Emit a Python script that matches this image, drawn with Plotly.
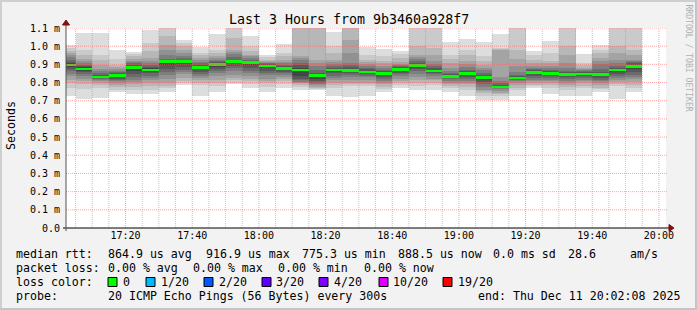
import plotly.graph_objects as go
import pandas as pd

# ---------------- data ----------------
# end time of each 5-minute step (rrd bucket), 11 Dec 2025
STEP_END = pd.date_range("2025-12-11 17:05", periods=35, freq="5min")

# median rtt per step (ms)
MEDIAN = [0.896, 0.874, 0.830, 0.838, 0.883, 0.869, 0.917, 0.915, 0.883, 0.900,
          0.915, 0.909, 0.891, 0.876, 0.869, 0.838, 0.869, 0.867, 0.858, 0.849,
          0.871, 0.893, 0.864, 0.834, 0.849, 0.828, 0.775, 0.825, 0.856, 0.849,
          0.845, 0.847, 0.843, 0.869, 0.889]

# 20 sorted ping rtts per step (ms)
PINGS = [
    [0.728,0.770,0.795,0.815,0.834,0.848,0.862,0.875,0.886,0.893,0.899,0.906,0.915,0.925,0.938,0.950,0.962,0.975,0.990,1.008],
    [0.709,0.766,0.793,0.810,0.822,0.835,0.848,0.858,0.866,0.871,0.877,0.883,0.890,0.898,0.908,0.918,0.930,0.950,0.981,1.072],
    [0.713,0.770,0.785,0.798,0.806,0.814,0.820,0.824,0.827,0.829,0.832,0.836,0.842,0.850,0.862,0.875,0.898,0.925,0.953,1.072],
    [0.746,0.761,0.775,0.785,0.797,0.806,0.814,0.822,0.829,0.835,0.841,0.846,0.852,0.858,0.865,0.872,0.885,0.898,0.930,0.977],
    [0.735,0.760,0.775,0.790,0.805,0.816,0.830,0.845,0.862,0.878,0.888,0.893,0.899,0.905,0.912,0.920,0.930,0.944,0.955,0.968],
    [0.735,0.761,0.780,0.797,0.812,0.825,0.838,0.850,0.858,0.866,0.872,0.878,0.886,0.895,0.905,0.918,0.935,0.972,1.017,1.087],
    [0.746,0.770,0.782,0.797,0.820,0.843,0.860,0.875,0.895,0.913,0.919,0.922,0.926,0.932,0.950,0.980,1.005,1.054,1.105,1.150],
    [0.785,0.797,0.810,0.825,0.845,0.860,0.871,0.885,0.900,0.912,0.918,0.922,0.926,0.935,0.945,0.962,0.980,0.999,1.015,1.032],
    [0.727,0.788,0.800,0.812,0.825,0.834,0.848,0.860,0.872,0.880,0.886,0.892,0.898,0.906,0.915,0.925,0.935,0.950,0.962,0.995],
    [0.746,0.779,0.795,0.816,0.835,0.850,0.862,0.875,0.888,0.897,0.903,0.908,0.912,0.918,0.926,0.935,0.944,0.962,0.981,1.065],
    [0.790,0.800,0.812,0.825,0.840,0.862,0.878,0.892,0.905,0.913,0.917,0.921,0.926,0.940,0.955,0.968,0.981,1.046,1.108,1.130],
    [0.772,0.790,0.807,0.822,0.838,0.852,0.866,0.880,0.895,0.906,0.912,0.916,0.920,0.926,0.935,0.945,0.953,0.975,0.999,1.054],
    [0.750,0.775,0.797,0.810,0.822,0.843,0.855,0.866,0.878,0.888,0.894,0.898,0.902,0.905,0.907,0.912,0.918,0.926,0.938,0.953],
    [0.772,0.790,0.807,0.818,0.830,0.843,0.852,0.860,0.867,0.873,0.879,0.885,0.892,0.898,0.905,0.915,0.926,0.945,0.962,1.014],
    [0.757,0.775,0.785,0.795,0.800,0.805,0.812,0.820,0.835,0.862,0.876,0.882,0.895,0.910,0.925,0.935,0.944,1.120,1.140,1.160],
    [0.761,0.766,0.772,0.778,0.785,0.792,0.800,0.810,0.822,0.834,0.842,0.846,0.852,0.870,0.890,0.910,0.926,1.120,1.140,1.160],
    [0.724,0.770,0.785,0.800,0.812,0.825,0.838,0.850,0.860,0.866,0.872,0.876,0.880,0.890,0.900,0.912,0.926,0.960,0.999,1.076],
    [0.720,0.779,0.790,0.800,0.816,0.830,0.842,0.852,0.860,0.864,0.870,0.876,0.885,0.895,0.907,0.960,1.036,1.110,1.130,1.150],
    [0.724,0.779,0.790,0.800,0.816,0.828,0.838,0.846,0.852,0.856,0.861,0.866,0.872,0.880,0.889,0.900,0.912,0.926,0.950,0.994],
    [0.750,0.762,0.775,0.790,0.800,0.807,0.818,0.830,0.840,0.846,0.852,0.858,0.864,0.870,0.880,0.890,0.905,0.917,0.945,0.986],
    [0.772,0.785,0.797,0.810,0.822,0.834,0.845,0.855,0.862,0.868,0.874,0.880,0.886,0.892,0.898,0.904,0.915,0.935,0.955,0.975],
    [0.757,0.780,0.800,0.816,0.830,0.845,0.862,0.873,0.882,0.890,0.896,0.902,0.910,0.918,0.928,0.940,0.953,0.999,1.120,1.140],
    [0.757,0.788,0.800,0.812,0.822,0.834,0.845,0.852,0.858,0.862,0.866,0.871,0.880,0.890,0.900,0.917,0.950,0.990,1.120,1.140],
    [0.750,0.770,0.780,0.790,0.797,0.808,0.818,0.825,0.830,0.832,0.836,0.840,0.846,0.852,0.865,0.880,0.907,0.930,0.953,1.021],
    [0.724,0.761,0.775,0.790,0.800,0.807,0.820,0.832,0.840,0.846,0.852,0.858,0.864,0.871,0.885,0.900,0.917,0.950,0.981,1.041],
    [0.706,0.724,0.740,0.752,0.761,0.775,0.790,0.805,0.816,0.825,0.831,0.836,0.843,0.855,0.868,0.882,0.898,0.920,0.944,1.021],
    [0.702,0.724,0.735,0.745,0.755,0.762,0.768,0.771,0.773,0.775,0.777,0.780,0.785,0.795,0.810,0.830,0.981,0.985,0.990,1.065],
    [0.724,0.761,0.772,0.785,0.797,0.806,0.812,0.818,0.821,0.823,0.827,0.830,0.836,0.843,0.860,0.889,0.930,0.981,1.120,1.140],
    [0.772,0.780,0.788,0.800,0.808,0.816,0.826,0.836,0.845,0.853,0.859,0.864,0.870,0.876,0.880,0.890,0.905,0.926,0.950,0.971],
    [0.735,0.770,0.785,0.797,0.807,0.815,0.825,0.835,0.842,0.846,0.852,0.858,0.864,0.870,0.880,0.890,0.905,0.917,0.960,1.027],
    [0.724,0.761,0.775,0.788,0.797,0.808,0.818,0.828,0.836,0.843,0.848,0.852,0.856,0.866,0.880,0.910,0.953,1.000,1.120,1.140],
    [0.724,0.770,0.782,0.795,0.807,0.816,0.826,0.834,0.840,0.845,0.849,0.852,0.856,0.862,0.868,0.875,0.880,0.895,0.907,0.959],
    [0.750,0.762,0.770,0.785,0.797,0.806,0.816,0.826,0.834,0.841,0.845,0.849,0.856,0.875,0.900,0.920,0.935,0.960,0.981,1.005],
    [0.709,0.779,0.790,0.803,0.814,0.825,0.837,0.848,0.858,0.866,0.872,0.877,0.880,0.890,0.905,0.926,0.960,0.999,1.120,1.140],
    [0.746,0.770,0.788,0.805,0.818,0.830,0.843,0.858,0.874,0.887,0.895,0.898,0.905,0.912,0.920,0.926,0.950,0.981,1.120,1.140],
]

Y_TICKS = [0.0, 0.1, 0.2, 0.3, 0.4, 0.5, 0.6, 0.7, 0.8, 0.9, 1.0, 1.1]
Y_LABELS = ["0.0", "0.1 m", "0.2 m", "0.3 m", "0.4 m", "0.5 m", "0.6 m",
            "0.7 m", "0.8 m", "0.9 m", "1.0 m", "1.1 m"]
X_TICKS = pd.date_range("2025-12-11 17:20", "2025-12-11 20:00", freq="20min")
X_LABELS = [t.strftime("%H:%M") for t in X_TICKS]
X_MINOR = pd.date_range("2025-12-11 17:05", "2025-12-11 20:00", freq="5min")
X_RANGE = ["2025-12-11 17:02:08", "2025-12-11 20:02:08"]

TITLE = "Last 3 Hours from 9b3460a928f7"
LEGEND_ROWS = [
    (254, [(16, "median rtt:"), (108, "864.9 us avg"), (206, "916.9 us max"),
           (302, "775.3 us min"), (398, "888.5 us now"), (493, "0.0 ms sd"),
           (568, "28.6"), (630, "am/s")]),
    (268, [(16, "packet loss:"), (108, "0.00 % avg"), (193, "0.00 % max"),
           (278, "0.00 % min"), (364, "0.00 % now")]),
    (282, [(16, "loss color:"), (123, "0"), (161, "1/20"), (219, "2/20"),
           (276, "3/20"), (334, "4/20"), (393, "10/20"), (458, "19/20")]),
    (296, [(16, "probe:"), (108, "20 ICMP Echo Pings (56 Bytes) every 300s"),
           (478, "end: Thu Dec 11 20:02:08 2025")]),
]
LOSS_BOXES = [(108, "#00ff00"), (146, "#00b8ff"), (204, "#0059ff"), (262, "#5e00ff"),
              (319, "#7e00ff"), (379, "#dd00ff"), (443, "#ff0000")]

SMOKE_COLORS = ["#dddddd", "#cacaca", "#b7b7b7", "#a4a4a4", "#919191",
                "#7e7e7e", "#6b6b6b", "#585858", "#454545", "#323232"]

# ---------------- geometry helpers ----------------
W_IMG, H_IMG = 697, 310
L, T, PW, PH = 66, 28, 600, 200
def PX(x):
    return (x - L) / PW
def PY(y):
    return (T + PH - y) / PH

MONO = "DejaVu Sans Mono"
STEP_MS = 300000

fig = go.Figure()

# smoke: band k spans ping k .. ping 21-k
for k in range(10):
    lo = [p[k] for p in PINGS]
    hi = [p[19 - k] for p in PINGS]
    fig.add_trace(go.Bar(
        x=STEP_END, base=lo, y=[h - l for h, l in zip(hi, lo)],
        width=STEP_MS, offset=-STEP_MS,
        marker=dict(color=SMOKE_COLORS[k], line=dict(width=0)),
        hoverinfo="skip", showlegend=False))

# median line (green = 0 loss)
SW = 0.0075
fig.add_trace(go.Bar(
    x=STEP_END, base=[m - SW for m in MEDIAN], y=[2 * SW] * len(MEDIAN),
    width=STEP_MS, offset=-STEP_MS,
    marker=dict(color="#00ff00", line=dict(width=0)),
    hoverinfo="skip", showlegend=False))

shapes = []
# vertical grid (minor grey every 5 min, major red every 20 min)
for t in X_MINOR:
    major = (t.minute % 20 == 0)
    shapes.append(dict(type="line", xref="x", yref="paper", x0=t, x1=t, y0=0, y1=1,
                       layer="above",
                       line=dict(color="rgba(255,90,90,0.55)" if major else "rgba(150,150,150,0.55)",
                                 width=1, dash="1px,1px")))
# horizontal grid
for v in Y_TICKS[1:]:
    shapes.append(dict(type="line", xref="paper", yref="y", x0=0, x1=PX(668), y0=v, y1=v,
                       layer="above",
                       line=dict(color="rgba(255,90,90,0.55)", width=1, dash="1px,1px")))
# axes
shapes.append(dict(type="line", xref="paper", yref="paper", x0=PX(63), x1=PX(670),
                   y0=0, y1=0, layer="above", line=dict(color="#000000", width=1)))
shapes.append(dict(type="line", xref="paper", yref="paper", x0=0, x1=0,
                   y0=PY(231), y1=PY(22), layer="above", line=dict(color="#555555", width=1)))
# arrows
shapes.append(dict(type="path", xref="paper", yref="paper", layer="above",
                   path=f"M {PX(669)} {PY(224.5)} L {PX(674)} {PY(228)} L {PX(669)} {PY(231.5)} Z",
                   fillcolor="#7f1010", line=dict(color="#7f1010", width=1)))
shapes.append(dict(type="path", xref="paper", yref="paper", layer="above",
                   path=f"M {PX(62.5)} {PY(25)} L {PX(66)} {PY(20)} L {PX(69.5)} {PY(25)} Z",
                   fillcolor="#7f1010", line=dict(color="#7f1010", width=1)))
# loss colour boxes
for bx, col in LOSS_BOXES:
    shapes.append(dict(type="rect", xref="paper", yref="paper",
                       x0=PX(bx), x1=PX(bx + 9), y0=PY(286.5), y1=PY(277.5),
                       fillcolor=col, line=dict(color="#000000", width=1)))
# image frame
shapes.append(dict(type="line", xref="paper", yref="paper", x0=PX(0), x1=PX(W_IMG),
                   y0=PY(1), y1=PY(1), line=dict(color="#cfcfcf", width=2)))
shapes.append(dict(type="line", xref="paper", yref="paper", x0=PX(1), x1=PX(1),
                   y0=PY(0), y1=PY(H_IMG), line=dict(color="#cfcfcf", width=2)))
shapes.append(dict(type="line", xref="paper", yref="paper", x0=PX(0), x1=PX(W_IMG),
                   y0=PY(H_IMG - 1), y1=PY(H_IMG - 1), line=dict(color="#c4c4c4", width=2)))
shapes.append(dict(type="line", xref="paper", yref="paper", x0=PX(W_IMG - 1), x1=PX(W_IMG - 1),
                   y0=PY(0), y1=PY(H_IMG), line=dict(color="#c4c4c4", width=2)))

annotations = []
annotations.append(dict(text=TITLE, xref="paper", yref="paper", x=PX(348.5), y=PY(19),
                        xanchor="center", yanchor="middle", showarrow=False,
                        font=dict(family=MONO, size=13.3, color="#000000"),
                        borderpad=0, borderwidth=0))
annotations.append(dict(text="Seconds", xref="paper", yref="paper", x=PX(10.5), y=PY(125.5),
                        xanchor="center", yanchor="middle", showarrow=False, textangle=-90,
                        font=dict(family=MONO, size=11.6, color="#000000"),
                        borderpad=0, borderwidth=0))
annotations.append(dict(text="RRDTOOL / TOBI OETIKER", xref="paper", yref="paper",
                        x=PX(688.5), y=PY(58), xanchor="center", yanchor="middle",
                        showarrow=False, textangle=90,
                        font=dict(family=MONO, size=8.1, color="#b0b0b0"),
                        borderpad=0, borderwidth=0))
for ry, items in LEGEND_ROWS:
    for lx, txt in items:
        annotations.append(dict(text=txt, xref="paper", yref="paper", x=PX(lx), y=PY(ry),
                                xanchor="left", yanchor="middle", showarrow=False,
                                font=dict(family=MONO, size=11.6, color="#000000"),
                                borderpad=0, borderwidth=0))

fig.update_layout(
    width=W_IMG, height=H_IMG,
    margin=dict(l=L, r=W_IMG - L - PW, t=T, b=H_IMG - T - PH, pad=0),
    paper_bgcolor="#f2f2f2", plot_bgcolor="#ffffff",
    barmode="overlay", bargap=0,
    showlegend=False,
    shapes=shapes, annotations=annotations,
    xaxis=dict(type="date", range=X_RANGE, tickvals=X_TICKS, ticktext=X_LABELS,
               showgrid=False, zeroline=False, showline=False, ticks="",
               tickfont=dict(family=MONO, size=10, color="#000000")),
    yaxis=dict(range=[0, 1.1], tickvals=Y_TICKS, ticktext=Y_LABELS,
               showgrid=False, zeroline=False, showline=False, ticks="",
               ticklabelstandoff=5,
               tickfont=dict(family=MONO, size=10, color="#000000")),
)

fig.write_html("out.html", config={"displayModeBar": False})
